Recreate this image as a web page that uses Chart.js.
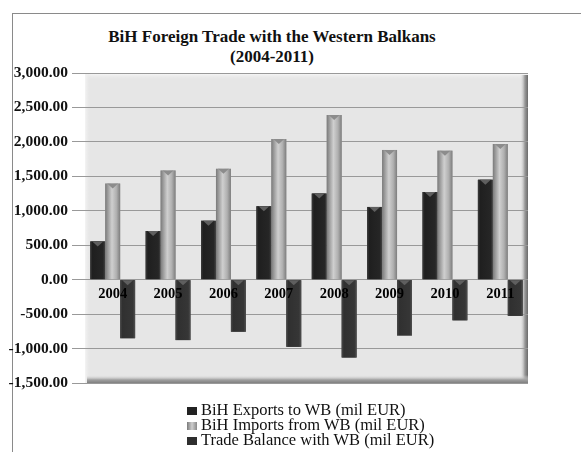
<!DOCTYPE html>
<html>
<head>
<meta charset="utf-8">
<script src="https://cdn.jsdelivr.net/npm/chart.js@4.4.0/dist/chart.umd.min.js"></script>
<style>
  html, body { margin: 0; padding: 0; background: #fff; }
  body { width: 581px; height: 452px; position: relative; overflow: hidden; }
  #frame {
    position: absolute; left: 12px; top: 13px; width: 600px; height: 500px;
    border-top: 1px solid #8a8a8a; border-left: 1px solid #8a8a8a;
  }
  #title {
    position: absolute; left: 0; width: 544px; top: 27px;
    text-align: center; font: bold 17px "Liberation Serif", serif; line-height: 20px; color: #111;
  }
  #tradeChart { position: absolute; left: 0; top: 0; width: 581px; height: 452px; }
  #legend {
    position: absolute; left: 187px; top: 402px;
    font: 16.5px "Liberation Serif", serif; line-height: 15px; color: #111;
  }
  #legend div { white-space: nowrap; }
  #legend span.box { display: inline-block; width: 10px; height: 8px; margin-right: 4px; vertical-align: 0px; }
</style>
</head>
<body>
<div id="frame"></div>
<div id="title">BiH Foreign Trade with the Western Balkans<br>(2004-2011)</div>
<canvas id="tradeChart" width="581" height="452"></canvas>
<div id="legend"></div>
<script>
// data (mil EUR)
const years = ['2004', '2005', '2006', '2007', '2008', '2009', '2010', '2011'];
const exportsWB = [555, 706, 855, 1066, 1250, 1056, 1272, 1451];
const importsWB = [1395, 1585, 1609, 2041, 2390, 1883, 1873, 1969];
const balanceWB = [-850, -877, -755, -975, -1130, -810, -590, -525];
const seriesNames = [
  'BiH Exports to WB (mil EUR)',
  'BiH Imports from WB (mil EUR)',
  'Trade Balance with WB (mil EUR)'
];
const seriesColors = ['#222222', '#a8a8a8', '#2e2e2e'];
const yTicks = [-1500, -1000, -500, 0, 500, 1000, 1500, 2000, 2500, 3000];

function fmt(v) {
  return v.toLocaleString('en-US', { minimumFractionDigits: 2, maximumFractionDigits: 2 });
}

// grey wall with a bevelled edge behind the bars
const wallPlugin = {
  id: 'wall',
  beforeDraw(chart) {
    const { ctx, chartArea: a } = chart;
    ctx.save();
    ctx.fillStyle = '#e6e6e6';
    ctx.fillRect(a.left, a.top, a.right - a.left, a.bottom - a.top);
    let g = ctx.createLinearGradient(0, a.top, 0, a.top + 7);
    g.addColorStop(0, '#fafafa'); g.addColorStop(1, 'rgba(230,230,230,0)');
    ctx.fillStyle = g; ctx.fillRect(a.left, a.top, a.right - a.left, 7);
    g = ctx.createLinearGradient(a.left, 0, a.left + 6, 0);
    g.addColorStop(0, '#f4f4f4'); g.addColorStop(1, 'rgba(230,230,230,0)');
    ctx.fillStyle = g; ctx.fillRect(a.left, a.top, 6, a.bottom - a.top);
    g = ctx.createLinearGradient(a.right - 8, 0, a.right, 0);
    g.addColorStop(0, 'rgba(230,230,230,0)'); g.addColorStop(0.6, '#9a9a9a'); g.addColorStop(1, '#6a6a6a');
    ctx.fillStyle = g; ctx.fillRect(a.right - 8, a.top + 2, 8, a.bottom - a.top - 2);
    g = ctx.createLinearGradient(0, a.bottom - 8, 0, a.bottom);
    g.addColorStop(0, 'rgba(230,230,230,0)'); g.addColorStop(0.6, '#a0a0a0'); g.addColorStop(1, '#808080');
    ctx.fillStyle = g; ctx.fillRect(a.left + 2, a.bottom - 8, a.right - a.left - 2, 8);
    ctx.restore();
  }
};

// shade each bar like the 3D columns and put the years on the zero line
const barLookPlugin = {
  id: 'barLook',
  afterDatasetsDraw(chart) {
    const ctx = chart.ctx;
    const zeroY = chart.scales.y.getPixelForValue(0);
    ctx.save();
    chart.data.datasets.forEach((ds, di) => {
      chart.getDatasetMeta(di).data.forEach(bar => {
        const left = bar.x - bar.width / 2, right = bar.x + bar.width / 2;
        const top = Math.min(bar.y, bar.base), bottom = Math.max(bar.y, bar.base);
        const g = ctx.createLinearGradient(left, 0, right, 0);
        if (di === 1) {
          g.addColorStop(0, '#7a7a7a'); g.addColorStop(0.45, '#cfcfcf');
          g.addColorStop(0.75, '#b0b0b0'); g.addColorStop(1, '#7d7d7d');
        } else if (di === 0) {
          g.addColorStop(0, '#3c3c3c'); g.addColorStop(0.15, '#1f1f1f');
          g.addColorStop(0.85, '#262626'); g.addColorStop(1, '#444');
        } else {
          g.addColorStop(0, '#4a4a4a'); g.addColorStop(0.15, '#303030');
          g.addColorStop(0.85, '#363636'); g.addColorStop(1, '#505050');
        }
        ctx.fillStyle = g;
        ctx.fillRect(left, top, right - left, bottom - top);
        // little notch at the top of the column
        ctx.fillStyle = di === 1 ? '#8c8c8c' : '#5f5f5f';
        ctx.beginPath();
        ctx.moveTo(left + 2, top);
        ctx.lineTo(right - 2, top);
        ctx.lineTo(bar.x, top + 5);
        ctx.closePath();
        ctx.fill();
      });
    });
    ctx.font = 'bold 14.5px "Liberation Serif", serif';
    ctx.fillStyle = '#000';
    ctx.textAlign = 'center';
    ctx.textBaseline = 'middle';
    years.forEach((yr, i) => {
      ctx.fillText(yr, chart.scales.x.getPixelForValue(i), zeroY + 15);
    });
    ctx.restore();
  }
};

const ctx = document.getElementById('tradeChart').getContext('2d');
const chart = new Chart(ctx, {
  type: 'bar',
  data: {
    labels: years,
    datasets: [
      { label: seriesNames[0], data: exportsWB, backgroundColor: seriesColors[0] },
      { label: seriesNames[1], data: importsWB, backgroundColor: seriesColors[1] },
      { label: seriesNames[2], data: balanceWB, backgroundColor: seriesColors[2] }
    ]
  },
  options: {
    responsive: false,
    animation: false,
    devicePixelRatio: 1,
    layout: { padding: { left: 0, top: 73, right: 53, bottom: 69 } },
    datasets: { bar: { categoryPercentage: 0.81, barPercentage: 1.0 } },
    plugins: {
      legend: { display: false },
      title: { display: false },
      tooltip: { enabled: false }
    },
    scales: {
      x: { display: false },
      y: {
        min: -1500,
        max: 3000,
        afterFit(scale) { scale.width = 85; },
        afterBuildTicks(scale) { scale.ticks = yTicks.map(v => ({ value: v })); },
        border: { display: false },
        grid: { color: '#999999', lineWidth: 1, tickLength: 13, tickColor: '#999999' },
        ticks: {
          autoSkip: false,
          padding: 4,
          color: '#111',
          font: { family: '"Liberation Serif", serif', size: 15.5, weight: 'bold' },
          callback: v => fmt(v)
        }
      }
    }
  },
  plugins: [wallPlugin, barLookPlugin]
});

// legend stacked like the original
const legendEl = document.getElementById('legend');
seriesNames.forEach((name, i) => {
  const row = document.createElement('div');
  const box = document.createElement('span');
  box.className = 'box';
  box.style.background = i === 1
    ? 'linear-gradient(90deg, #7a7a7a, #cfcfcf, #8a8a8a)'
    : seriesColors[i];
  row.appendChild(box);
  row.appendChild(document.createTextNode(name));
  legendEl.appendChild(row);
});
</script>
</body>
</html>
